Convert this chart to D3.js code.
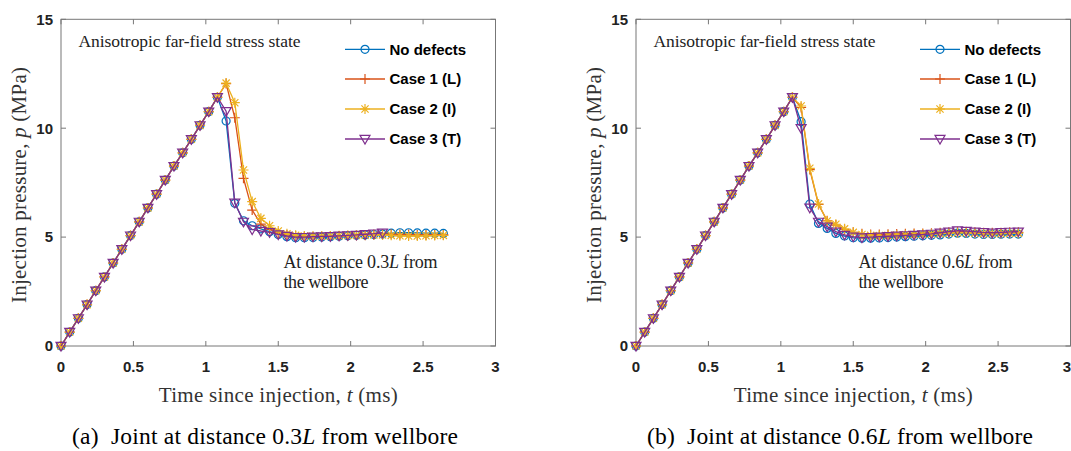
<!DOCTYPE html>
<html><head><meta charset="utf-8">
<script src="https://cdn.jsdelivr.net/npm/d3@7"></script>
<style>
html,body{margin:0;padding:0;background:#fff;}
svg{display:block;}
</style></head>
<body>
<svg id="chart" width="1071" height="451"></svg>
<script>
// ---------- DATA ----------
const timeMs = [0,0.06,0.12,0.18,0.24,0.30,0.36,0.42,0.48,0.54,0.60,0.66,0.72,0.78,0.84,0.90,0.96,1.02,1.08,
  1.14,1.20,1.26,1.32,1.38,1.44,1.50,1.56,1.62,1.68,1.74,1.80,1.86,1.92,1.98,2.04,2.10,2.16,2.22,2.28,2.34,2.40,2.46,2.52,2.58,2.64];
// loading branch (identical for all cases, t = 0 ... 1.08 ms)
const riseP = [0,0.64,1.27,1.90,2.54,3.17,3.81,4.44,5.07,5.70,6.34,6.97,7.62,8.26,8.87,9.49,10.13,10.76,11.42];
// post-peak branch, t = 1.14 ... , joint at 0.3L
const a_noDef = [10.33,6.55,5.75,5.52,5.38,5.25,5.12,5.02,4.97,4.97,4.98,5.00,5.02,5.04,5.06,5.08,5.10,5.12,5.14,5.18,5.20,5.20,5.19,5.18,5.18,5.17];
const a_case1 = [12.05,10.48,7.70,6.24,5.60,5.35,5.18,5.10,5.05,5.02,5.02,5.03,5.04,5.05,5.06,5.08,5.10,5.12,5.13,5.13,5.12,5.12,5.10,5.10,5.10,5.10];
const a_case2 = [12.07,11.17,8.08,6.63,5.86,5.52,5.28,5.15,5.08,5.05,5.04,5.04,5.05,5.06,5.07,5.08,5.09,5.10,5.10,5.08,5.06,5.05,5.05,5.06,5.07,5.08];
const a_case3 = [10.78,6.58,5.70,5.35,5.28,5.22,5.12,5.05,5.00,5.00,5.02,5.03,5.04,5.06,5.08,5.10,5.13,5.16,5.20];
// post-peak branch, joint at 0.6L
const b_noDef = [10.30,6.52,5.63,5.40,5.17,5.05,4.97,4.95,4.95,4.96,4.98,5.00,5.02,5.04,5.06,5.08,5.10,5.14,5.18,5.17,5.14,5.12,5.12,5.13,5.14,5.14];
const b_case1 = [10.95,8.10,6.50,5.75,5.55,5.35,5.22,5.15,5.12,5.12,5.13,5.14,5.15,5.16,5.17,5.18,5.20,5.22,5.25,5.25,5.22,5.20,5.20,5.20,5.22,5.22];
const b_case2 = [11.02,8.16,6.52,5.74,5.59,5.38,5.22,5.12,5.08,5.07,5.08,5.10,5.11,5.12,5.13,5.14,5.16,5.18,5.20,5.20,5.18,5.16,5.15,5.16,5.17,5.18];
const b_case3 = [10.00,6.35,5.70,5.48,5.25,5.10,5.02,4.98,5.00,5.02,5.04,5.06,5.08,5.10,5.12,5.15,5.20,5.25,5.30,5.28,5.25,5.22,5.20,5.22,5.24,5.25];

const seriesNames = ["No defects","Case 1 (L)","Case 2 (I)","Case 3 (T)"];
const seriesColors = ["#0072BD","#D95319","#EDB120","#7E2F8E"];
const seriesMarkers = ["circle","plus","star","triangle"];
const xTicks = [0,0.5,1,1.5,2,2.5,3];
const xTickLabels = ["0","0.5","1","1.5","2","2.5","3"];
const yTicks = [0,5,10,15];
const distances = ["0.3","0.6"];
const captionTags = ["(a)","(b)"];

// ---------- DRAW ----------
const svg = d3.select("#chart");
const axisColor = "#777";
const serif = "'Liberation Serif','Times New Roman',serif";
const sans = "'Liberation Sans',Arial,Helvetica,sans-serif";
const W = 1071;

function markerPath(type){
  switch(type){
    case "circle": return "M4,0A4,4 0 1,1 -4,0A4,4 0 1,1 4,0Z";
    case "plus": return "M-5,0H5M0,-5V5";
    case "star": return "M-5,0H5M0,-5V5M-3.6,-3.6L3.6,3.6M-3.6,3.6L3.6,-3.6";
    case "triangle": return "M-5,-3.6L5,-3.6L0,5Z";
  }
}

function panel(x0, seriesPost, dist, tag){
  const g = svg.append("g");
  const x = d3.scaleLinear().domain([0,3]).range([x0, x0+434.5]);
  const y = d3.scaleLinear().domain([0,15]).range([346, 19.3]);

  // box
  g.append("rect").attr("x", x(0)).attr("y", y(15)).attr("width", x(3)-x(0)).attr("height", y(0)-y(15))
    .attr("fill","none").attr("stroke",axisColor).attr("stroke-width",1);

  // ticks (inward, all four sides)
  xTicks.forEach(v=>{
    g.append("line").attr("x1",x(v)).attr("x2",x(v)).attr("y1",y(0)).attr("y2",y(0)-5).attr("stroke",axisColor);
    g.append("line").attr("x1",x(v)).attr("x2",x(v)).attr("y1",y(15)).attr("y2",y(15)+5).attr("stroke",axisColor);
  });
  yTicks.forEach(v=>{
    g.append("line").attr("x1",x(0)).attr("x2",x(0)+5).attr("y1",y(v)).attr("y2",y(v)).attr("stroke",axisColor);
    g.append("line").attr("x1",x(3)).attr("x2",x(3)-5).attr("y1",y(v)).attr("y2",y(v)).attr("stroke",axisColor);
  });
  xTicks.forEach((v,i)=>{
    const px = x(v);
    const overflow = px + 6 > W;
    g.append("text").attr("x", overflow ? W : px).attr("y",371.5).attr("text-anchor", overflow ? "end" : "middle")
      .attr("font-family",sans).attr("font-weight","bold").attr("font-size",15).attr("fill","#222")
      .text(xTickLabels[i]);
  });
  yTicks.forEach(v=>{
    g.append("text").attr("x",x(0)-8).attr("y",y(v)+5.3).attr("text-anchor","end")
      .attr("font-family",sans).attr("font-weight","bold").attr("font-size",15).attr("fill","#222")
      .text(v);
  });

  // series
  const line = d3.line().x(d=>x(d[0])).y(d=>y(d[1]));
  seriesPost.forEach((post,si)=>{
    const vals = riseP.concat(post);
    const pts = vals.map((v,i)=>[timeMs[i], v]);
    g.append("path").attr("d", line(pts)).attr("fill","none")
      .attr("stroke",seriesColors[si]).attr("stroke-width",1.3);
    g.selectAll(null).data(pts).enter().append("path")
      .attr("transform",d=>`translate(${x(d[0])},${y(d[1])})`)
      .attr("d", markerPath(seriesMarkers[si]))
      .attr("fill","none").attr("stroke",seriesColors[si]).attr("stroke-width",1.2);
  });

  // legend
  const legRows = [49.3,79,109,139];
  seriesNames.forEach((nm,si)=>{
    const ly = legRows[si];
    g.append("line").attr("x1",x0+284).attr("x2",x0+324).attr("y1",ly).attr("y2",ly)
      .attr("stroke",seriesColors[si]).attr("stroke-width",1.3);
    g.append("path").attr("transform",`translate(${x0+304},${ly})`).attr("d",markerPath(seriesMarkers[si]))
      .attr("fill","none").attr("stroke",seriesColors[si]).attr("stroke-width",1.2);
    g.append("text").attr("x",x0+328.5).attr("y",ly+5.4).attr("font-family",sans).attr("font-weight","bold")
      .attr("font-size",15).attr("fill","#000").text(nm);
  });

  // annotations
  g.append("text").attr("x",x0+17.5).attr("y",47).attr("font-family",serif).attr("font-size",17.5)
    .attr("textLength",222).attr("fill","#222").text("Anisotropic far-field stress state");
  const ann1 = g.append("text").attr("x",x0+222.5).attr("y",267.5).attr("font-family",serif).attr("font-size",18)
    .attr("textLength",154).attr("fill","#222");
  ann1.append("tspan").text("At distance "+dist);
  ann1.append("tspan").attr("font-style","italic").text("L");
  ann1.append("tspan").text(" from");
  g.append("text").attr("x",x0+222.5).attr("y",287.5).attr("font-family",serif).attr("font-size",18)
    .attr("textLength",85).attr("fill","#222").text("the wellbore");

  // axis labels
  const xl = g.append("text").attr("x",(x(0)+x(3))/2).attr("y",401.5).attr("text-anchor","middle")
    .attr("font-family",serif).attr("font-size",21).attr("textLength",239).attr("fill","#333");
  xl.append("tspan").text("Time since injection, ");
  xl.append("tspan").attr("font-style","italic").text("t");
  xl.append("tspan").text(" (ms)");

  const yl = g.append("text").attr("transform",`translate(${x0-35.5},185) rotate(-90)`).attr("text-anchor","middle")
    .attr("font-family",serif).attr("font-size",21).attr("textLength",236).attr("fill","#333");
  yl.append("tspan").text("Injection pressure, ");
  yl.append("tspan").attr("font-style","italic").text("p");
  yl.append("tspan").text(" (MPa)");

  // caption
  const cap = g.append("text").attr("x",x0+204).attr("y",444).attr("text-anchor","middle")
    .attr("font-family",serif).attr("font-size",23.5).attr("textLength",386).attr("fill","#000");
  cap.append("tspan").text(tag+"\u00A0\u00A0Joint at distance "+dist);
  cap.append("tspan").attr("font-style","italic").text("L");
  cap.append("tspan").text(" from wellbore");
}

panel(61, [a_noDef,a_case1,a_case2,a_case3], distances[0], captionTags[0]);
panel(636, [b_noDef,b_case1,b_case2,b_case3], distances[1], captionTags[1]);
</script>
</body></html>
